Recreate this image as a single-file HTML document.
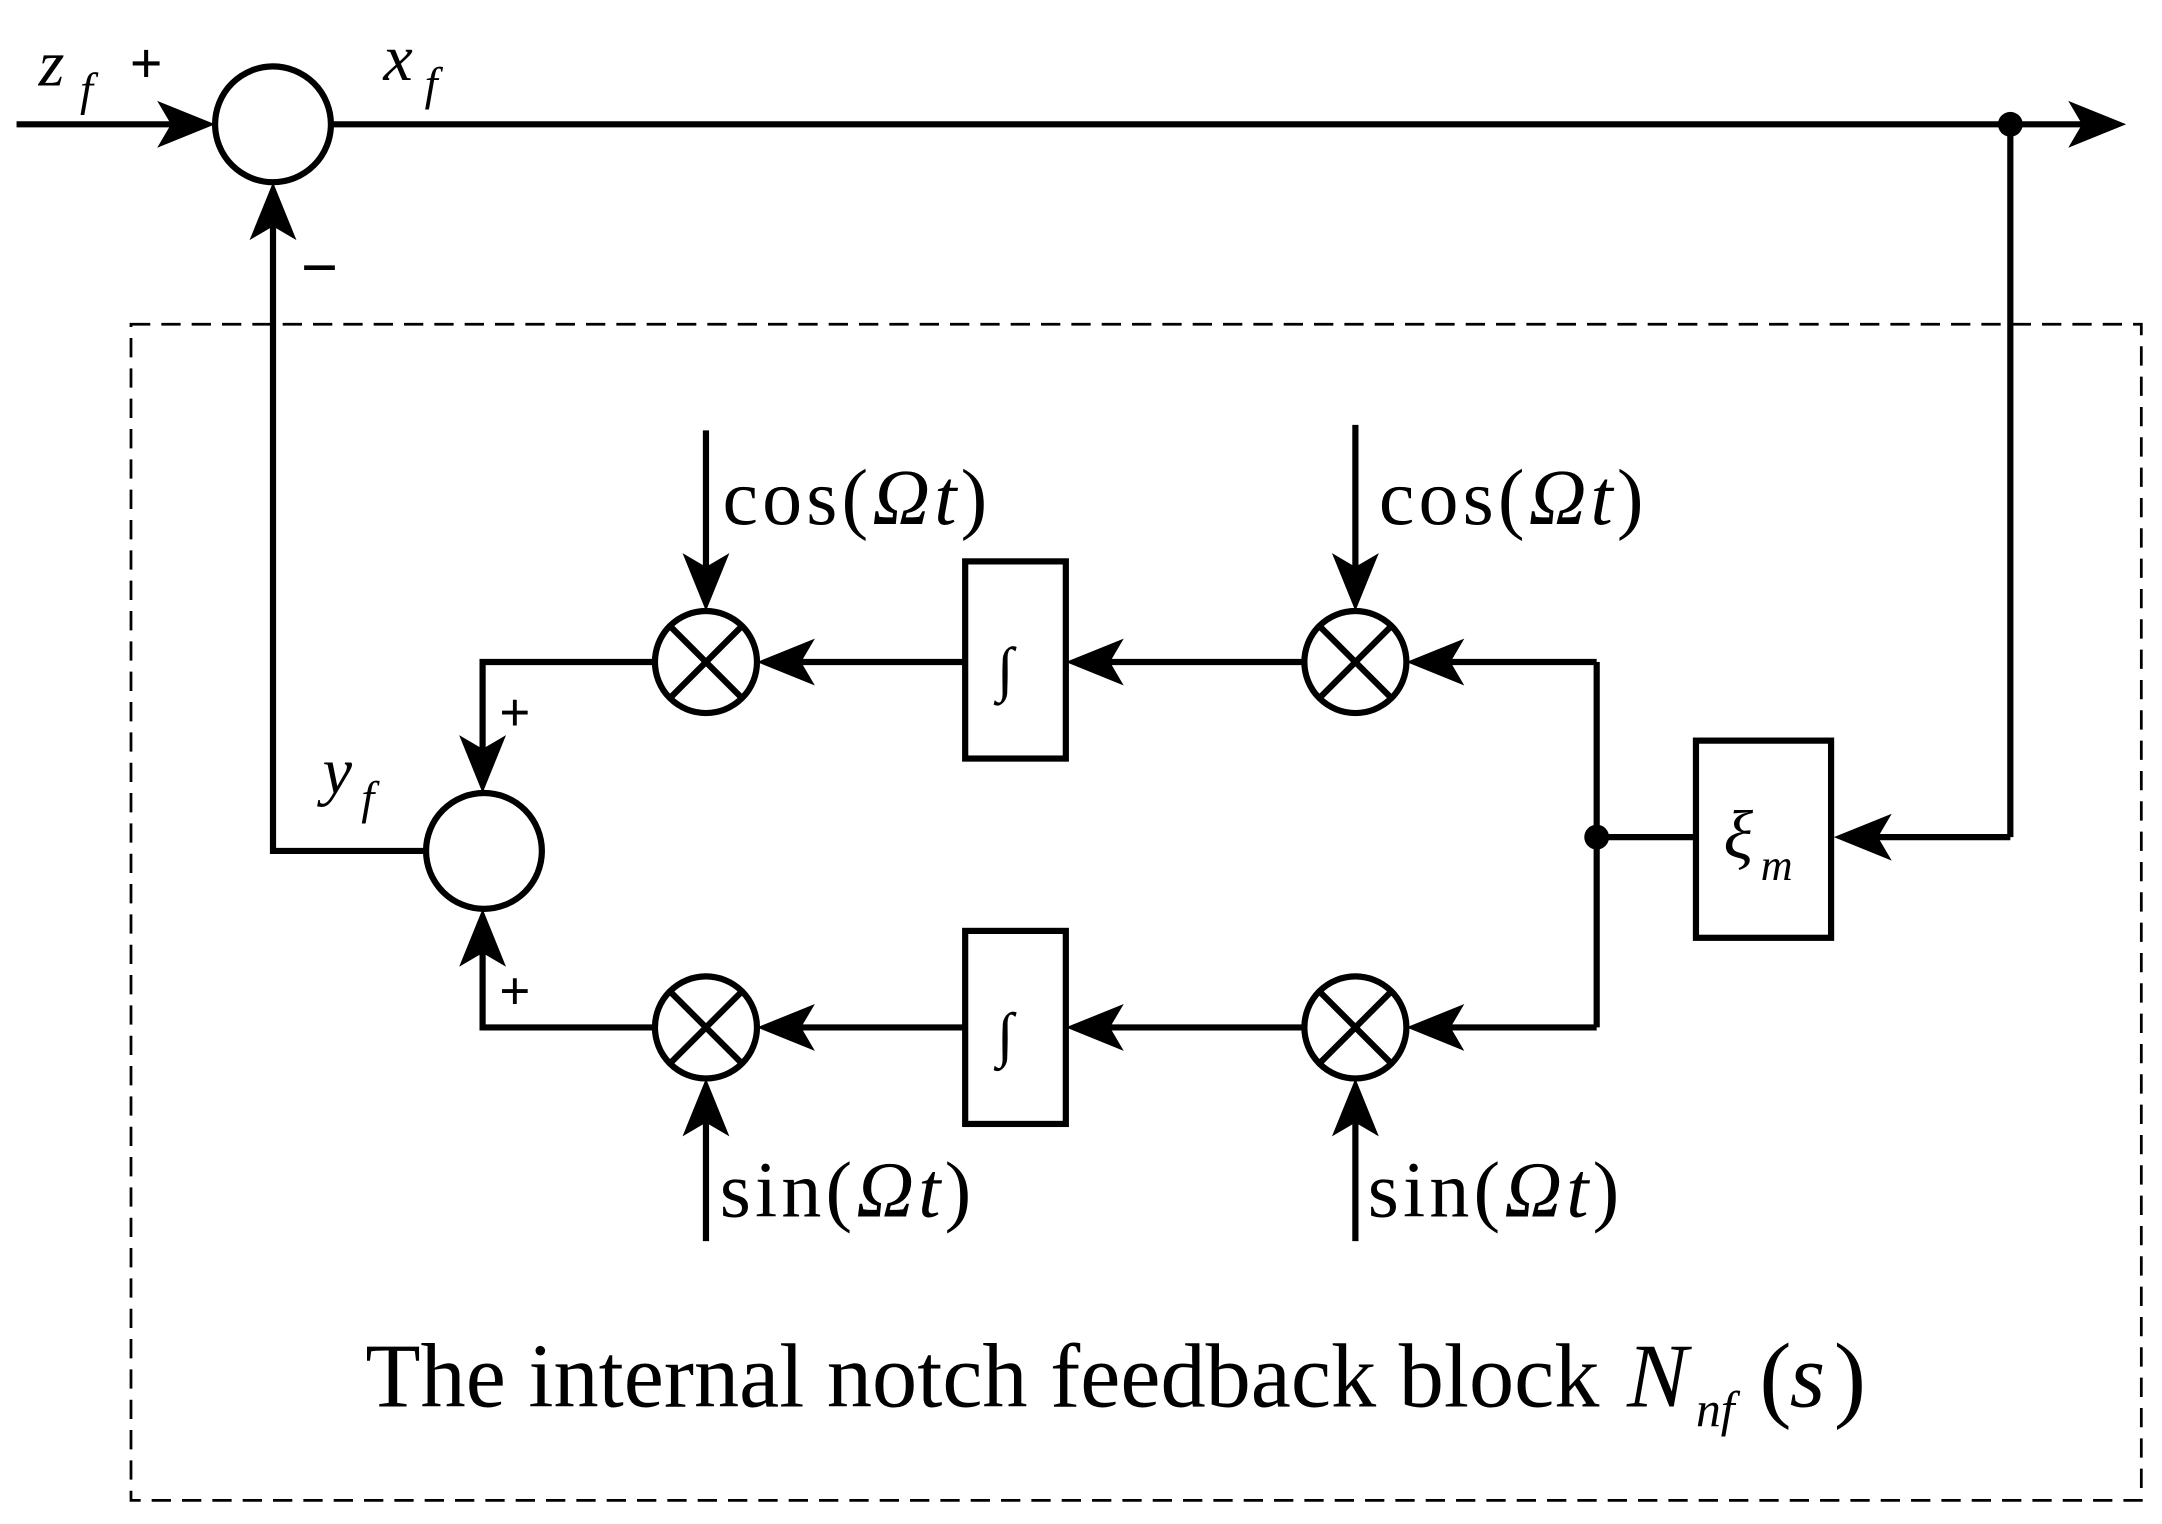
<!DOCTYPE html>
<html><head><meta charset="utf-8"><style>
html,body{margin:0;padding:0;background:#fff;width:2162px;height:1524px;overflow:hidden}
svg{display:block}
text{font-family:"Liberation Serif",serif;fill:#000}
</style></head><body>
<svg width="2162" height="1524" viewBox="0 0 1568 1105" xmlns="http://www.w3.org/2000/svg">
<defs>
<path id="ar" d="M0,0 L-42,-17 L-32,0 L-42,17 Z" fill="#000"/>
</defs>
<g stroke="#000" stroke-width="4.5" fill="none">
<line x1="12" y1="90" x2="150" y2="90"/>
<circle cx="198" cy="90" r="42" fill="#fff"/>
<line x1="240" y1="90" x2="1510" y2="90"/>
<line x1="1458" y1="90" x2="1458" y2="607"/>
<line x1="1458" y1="607" x2="1340" y2="607"/>
<rect x="1230" y="537" width="98" height="143"/>
<line x1="1230" y1="607" x2="1158" y2="607"/>
<line x1="1158" y1="480" x2="1158" y2="745"/>
<line x1="1158" y1="480" x2="1030" y2="480"/>
<line x1="1158" y1="745" x2="1030" y2="745"/>
<circle cx="983" cy="480" r="37"/><line x1="957" y1="454" x2="1009" y2="506"/><line x1="1009" y1="454" x2="957" y2="506"/>
<circle cx="512" cy="480" r="37"/><line x1="486" y1="454" x2="538" y2="506"/><line x1="538" y1="454" x2="486" y2="506"/>
<circle cx="983" cy="745" r="37"/><line x1="957" y1="719" x2="1009" y2="771"/><line x1="1009" y1="719" x2="957" y2="771"/>
<circle cx="512" cy="745" r="37"/><line x1="486" y1="719" x2="538" y2="771"/><line x1="538" y1="719" x2="486" y2="771"/>
<line x1="946" y1="480" x2="785" y2="480"/>
<line x1="946" y1="745" x2="785" y2="745"/>
<rect x="700" y="407" width="73" height="143"/>
<rect x="700" y="675" width="73" height="140"/>
<line x1="700" y1="480" x2="560" y2="480"/>
<line x1="700" y1="745" x2="560" y2="745"/>
<polyline points="475,480 350,480 350,565"/>
<polyline points="475,745 350,745 350,670"/>
<circle cx="351" cy="617" r="42"/>
<polyline points="309,617 198,617 198,142"/>
<line x1="512" y1="312" x2="512" y2="433"/>
<line x1="983" y1="308" x2="983" y2="433"/>
<line x1="512" y1="900" x2="512" y2="792"/>
<line x1="983" y1="900" x2="983" y2="792"/>
<rect x="95" y="235" width="1458" height="853" stroke-width="2" stroke-dasharray="14,8"/>
</g>
<circle cx="1458" cy="90" r="9"/>
<circle cx="1158" cy="607" r="9"/>
<use href="#ar" transform="translate(156,90)"/>
<use href="#ar" transform="translate(1542,90)"/>
<use href="#ar" transform="translate(1330,607) rotate(180)"/>
<use href="#ar" transform="translate(1020,480) rotate(180)"/>
<use href="#ar" transform="translate(1020,745) rotate(180)"/>
<use href="#ar" transform="translate(773,480) rotate(180)"/>
<use href="#ar" transform="translate(773,745) rotate(180)"/>
<use href="#ar" transform="translate(549,480) rotate(180)"/>
<use href="#ar" transform="translate(549,745) rotate(180)"/>
<use href="#ar" transform="translate(350,575) rotate(90)"/>
<use href="#ar" transform="translate(350,659) rotate(-90)"/>
<use href="#ar" transform="translate(198,132) rotate(-90)"/>
<use href="#ar" transform="translate(512,443) rotate(90)"/>
<use href="#ar" transform="translate(983,443) rotate(90)"/>
<use href="#ar" transform="translate(512,782) rotate(-90)"/>
<use href="#ar" transform="translate(983,782) rotate(-90)"/>
<text x="28" y="62" font-size="48" font-style="italic">z</text>
<text x="58" y="76" font-size="34" font-style="italic">f</text>
<text x="94" y="60" font-size="42" font-weight="bold" font-family="Liberation Sans">+</text>
<text x="278" y="58" font-size="48" font-style="italic">x</text>
<text x="308" y="72" font-size="34" font-style="italic">f</text>
<text x="218" y="210" font-size="48" font-weight="bold" font-family="Liberation Sans">−</text>
<text x="234" y="575" font-size="48" font-style="italic">y</text>
<text x="262" y="590" font-size="34" font-style="italic">f</text>
<text x="362" y="530" font-size="40" font-weight="bold" font-family="Liberation Sans">+</text>
<text x="362" y="732" font-size="40" font-weight="bold" font-family="Liberation Sans">+</text>
<text x="524" y="380" font-size="58" letter-spacing="3">cos(<tspan font-style="italic">Ωt</tspan>)</text>
<text x="1000" y="380" font-size="58" letter-spacing="3">cos(<tspan font-style="italic">Ωt</tspan>)</text>
<text x="522" y="882" font-size="58" letter-spacing="3">sin(<tspan font-style="italic">Ωt</tspan>)</text>
<text x="992" y="882" font-size="58" letter-spacing="3">sin(<tspan font-style="italic">Ωt</tspan>)</text>
<text x="723" y="500" font-size="44">∫</text>
<text x="723" y="765" font-size="44">∫</text>
<text x="1250" y="622" font-size="50" font-style="italic">ξ</text>
<text x="1277" y="638" font-size="32" font-style="italic">m</text>
<text x="265" y="1020" font-size="66" textLength="895" lengthAdjust="spacingAndGlyphs">The internal notch feedback block</text>
<text x="1180" y="1020" font-size="66" font-style="italic">N</text>
<text x="1230" y="1034" font-size="36" font-style="italic">nf</text>
<text x="1276" y="1022" font-size="70">(</text>
<text x="1298" y="1020" font-size="66" font-style="italic">s</text>
<text x="1330" y="1022" font-size="70">)</text>
</svg>
</body></html>
